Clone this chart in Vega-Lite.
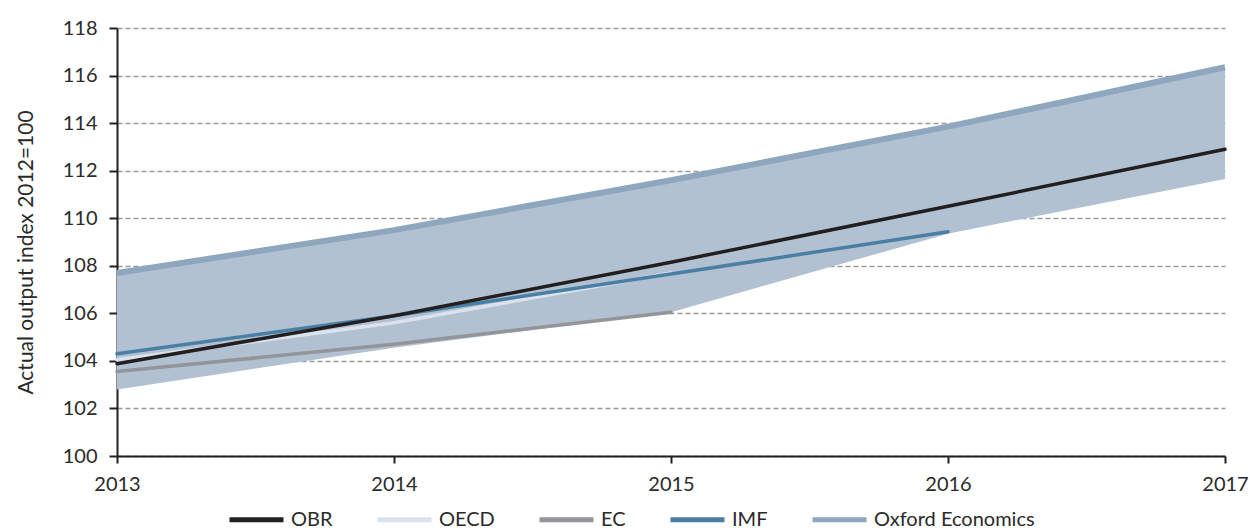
{
  "$schema": "https://vega.github.io/schema/vega-lite/v6.json",
  "width": 1108,
  "height": 428,
  "autosize": {"type": "none"},
  "padding": {"left": 117, "top": 28, "right": 25, "bottom": 76},
  "background": "white",
  "config": {
    "view": {"stroke": null},
    "font": "Lato",
    "axis": {"labelFont": "Lato", "titleFont": "Lato", "labelColor": "#2a2a2a", "titleColor": "#2a2a2a"}
  },
  "datasets": {
    "band": [
      {"year": 2013, "lo": 102.8, "hi": 107.7},
      {"year": 2014, "lo": 104.55, "hi": 109.5},
      {"year": 2015, "lo": 106.05, "hi": 111.6},
      {"year": 2016, "lo": 109.35, "hi": 113.85},
      {"year": 2017, "lo": 111.65, "hi": 116.35}
    ],
    "oxford": [
      {"series": "Oxford Economics", "year": 2013, "value": 107.7},
      {"series": "Oxford Economics", "year": 2014, "value": 109.5},
      {"series": "Oxford Economics", "year": 2015, "value": 111.6},
      {"series": "Oxford Economics", "year": 2016, "value": 113.85},
      {"series": "Oxford Economics", "year": 2017, "value": 116.35}
    ],
    "lines": [
      {"series": "EC", "year": 2013, "value": 103.55},
      {"series": "EC", "year": 2014, "value": 104.7},
      {"series": "EC", "year": 2015, "value": 106.05},
      {"series": "OECD", "year": 2013, "value": 104.05},
      {"series": "OECD", "year": 2014, "value": 105.6},
      {"series": "OECD", "year": 2015, "value": 107.7},
      {"series": "IMF", "year": 2013, "value": 104.3},
      {"series": "IMF", "year": 2014, "value": 105.9},
      {"series": "IMF", "year": 2015, "value": 107.65},
      {"series": "IMF", "year": 2016, "value": 109.43},
      {"series": "OBR", "year": 2013, "value": 103.88},
      {"series": "OBR", "year": 2014, "value": 105.9},
      {"series": "OBR", "year": 2015, "value": 108.15},
      {"series": "OBR", "year": 2016, "value": 110.5},
      {"series": "OBR", "year": 2017, "value": 112.9}
    ]
  },
  "layer": [
    {
      "data": {"name": "band"},
      "mark": {"type": "area", "color": "#b2c1d1", "opacity": 1},
      "encoding": {
        "x": {"field": "year", "type": "quantitative", "scale": {"domain": [2013, 2017], "nice": false, "zero": false},
          "axis": {"values": [2013, 2014, 2015, 2016, 2017], "format": "d", "title": null, "grid": false,
            "domainColor": "#231f20", "domainWidth": 2, "tickColor": "#231f20", "tickWidth": 2, "tickSize": 7,
            "labelFontSize": 20, "labelPadding": 11, "labelFlush": false}},
        "y": {"field": "lo", "type": "quantitative", "scale": {"domain": [100, 118], "nice": false, "zero": false},
          "axis": {"values": [100, 102, 104, 106, 108, 110, 112, 114, 116, 118], "title": "Actual output index 2012=100",
            "titleFontSize": 21, "titleFontWeight": "normal", "titlePadding": 26, "titleY": 224,
            "grid": true, "gridColor": "#9a9a9a", "gridDash": [5, 3], "gridWidth": 1.3,
            "domainColor": "#231f20", "domainWidth": 2, "tickColor": "#231f20", "tickWidth": 2, "tickSize": 8,
            "labelFontSize": 20, "labelPadding": 12}},
        "y2": {"field": "hi"}
      }
    },
    {
      "data": {"name": "oxford"},
      "mark": {"type": "line", "strokeCap": "butt", "strokeWidth": 6},
      "encoding": {
        "x": {"field": "year", "type": "quantitative"},
        "y": {"field": "value", "type": "quantitative"},
        "color": {"field": "series", "type": "nominal"},
        "order": {"field": "year"}
      }
    },
    {
      "data": {"name": "lines"},
      "mark": {"type": "line", "strokeCap": "round", "strokeWidth": 3.5},
      "encoding": {
        "x": {"field": "year", "type": "quantitative"},
        "y": {"field": "value", "type": "quantitative"},
        "color": {"field": "series", "type": "nominal",
          "scale": {"domain": ["OBR", "OECD", "EC", "IMF", "Oxford Economics"], "range": ["#231f20", "#dbe2ec", "#939598", "#4a7fa5", "#8ea7bf"]},
          "legend": {"orient": "none", "legendX": 110, "legendY": 462, "direction": "horizontal", "title": null,
            "symbolType": "stroke", "symbolSize": 2916, "symbolStrokeWidth": 5, "labelFontSize": 20, "labelFont": "Lato",
            "labelColor": "#2a2a2a", "labelOffset": 5, "columnPadding": 34, "labelLimit": 400}},
        "order": {"field": "year"}
      }
    }
  ]
}
